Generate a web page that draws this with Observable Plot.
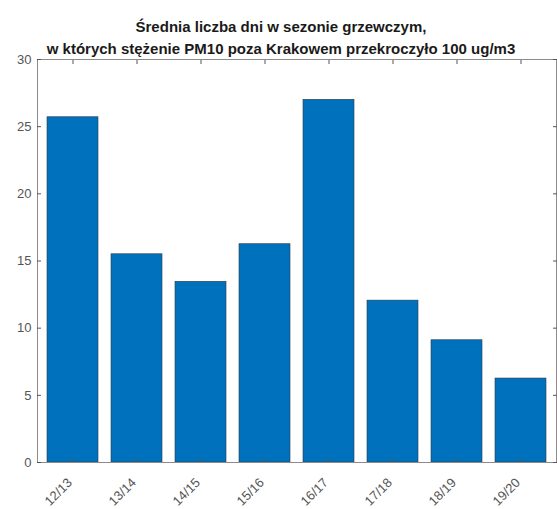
<!DOCTYPE html>
<html>
<head>
<meta charset="utf-8">
<script src="https://cdn.jsdelivr.net/npm/d3@7"></script>
<script src="https://cdn.jsdelivr.net/npm/@observablehq/plot@0.6"></script>
<style>
  html, body { margin: 0; padding: 0; background: #fff; }
  #wrap { position: relative; width: 557px; height: 509px; overflow: hidden; }
  #title { position: absolute; left: 0; top: 16px; width: 562px; text-align: center;
    font-family: "Liberation Sans", Arial, sans-serif; font-weight: bold; font-size: 15px;
    line-height: 22px; color: #1a1a1a; }
</style>
</head>
<body>
<div id="wrap">
  <div id="chart"></div>
  <div id="title">Średnia liczba dni w sezonie grzewczym,<br>w których stężenie PM10 poza Krakowem przekroczyło 100 ug/m3</div>
</div>
<script>
const seasons = ["12/13", "13/14", "14/15", "15/16", "16/17", "17/18", "18/19", "19/20"];
const days = [25.7, 15.5, 13.45, 16.25, 27.0, 12.05, 9.1, 6.25];
const yTicks = [0, 5, 10, 15, 20, 25, 30];

const data = seasons.map((s, i) => ({season: s, days: days[i]}));
const axisColor = "#8c8c8c";

const chart = Plot.plot({
  width: 557,
  height: 509,
  marginLeft: 37,
  marginRight: 1,
  marginTop: 59,
  marginBottom: 47,
  style: {fontFamily: "'Liberation Sans', Arial, sans-serif", fontSize: "13px", color: "#555", background: "#fff"},
  x: {domain: seasons, paddingInner: 0.2, paddingOuter: 0.1, label: null},
  y: {domain: [0, 30], label: null},
  marks: [
    Plot.barY(data, {x: "season", y: "days", fill: "#0072BD", stroke: "#2a3a4a", strokeWidth: 0.6}),
    Plot.frame({stroke: axisColor}),
    Plot.axisY({ticks: yTicks, tickSize: -4, tickPadding: 10, stroke: "#555", fill: "#555"}),
    Plot.axisY({anchor: "right", ticks: yTicks, tickSize: -4, tickFormat: () => "", label: null, stroke: "#555"}),
    Plot.axisX({tickSize: -4, tickFormat: () => "", label: null, stroke: "#555"}),
    Plot.axisX({tickSize: 0, tickRotate: -45, tickPadding: 18, dx: -3, fill: "#555"}),
    Plot.axisX({anchor: "top", tickSize: -4, tickFormat: () => "", label: null, stroke: "#555"})
  ]
});
document.getElementById("chart").appendChild(chart);
</script>
</body>
</html>
